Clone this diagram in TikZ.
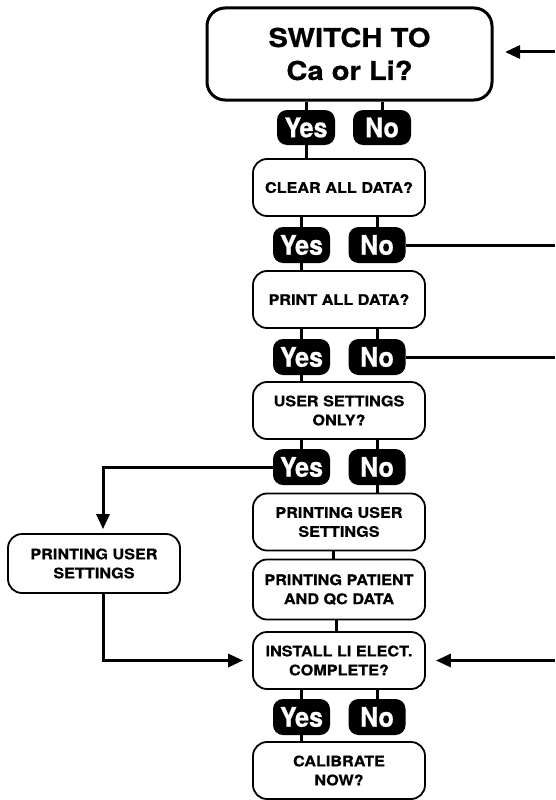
\documentclass[tikz,border=0pt]{standalone}
\usepackage{fontspec}
\setmainfont{TeX Gyre Heros}[FakeStretch=1.11,BoldFeatures={FakeBold=0.6}]
\newfontfamily\topfont{TeX Gyre Heros}[FakeStretch=1.12,BoldFeatures={FakeBold=0.8}]
\newfontfamily\pillfont{TeX Gyre Heros}[FakeStretch=0.93,BoldFeatures={FakeBold=0.8}]
\usetikzlibrary{arrows.meta}
\begin{document}
\begin{tikzpicture}[x=1pt,y=-1pt,
 box/.style={draw, line width=1.8pt, rounded corners=14pt, minimum width=172pt, minimum height=57pt, inner sep=0pt, align=center, font=\fontsize{14.6}{19}\selectfont\bfseries},
 topbox/.style={draw, line width=3pt, rounded corners=18pt, minimum width=285pt, minimum height=92pt, align=center, inner sep=0pt, font=\topfont\fontsize{26}{33}\selectfont\bfseries},
 pill/.style={fill=black, text=white, rounded corners=10pt, minimum width=57pt, minimum height=36pt, inner sep=0pt, font=\pillfont\fontsize{27}{27}\selectfont\bfseries},
 conn/.style={line width=3pt},
 arr/.style={line width=3pt, -{Triangle[length=15pt,width=13pt]}}
]
\useasboundingbox (0,0) rectangle (555,800);
% boxes
\node[topbox] (top) at (349.5,54) {SWITCH TO\\Ca or Li?};
\node[box] (clear) at (339,187.5) {CLEAR ALL DATA?};
\node[box] (print) at (339,299.5) {PRINT ALL DATA?};
\node[box] (user) at (339,410.5) {USER SETTINGS\\ONLY?};
\node[box] (pus) at (339,522) {PRINTING USER\\SETTINGS};
\node[box, minimum height=60pt] (pat) at (339,589.5) {PRINTING PATIENT\\AND QC DATA};
\node[box] (inst) at (339,660.5) {INSTALL LI ELECT.\\COMPLETE?};
\node[box] (cal) at (339,770.5) {CALIBRATE\\NOW?};
\node[box, minimum height=59pt] (left) at (94,563.5) {PRINTING USER\\SETTINGS};
% pills
\node[pill, minimum width=58pt, minimum height=35pt] (y1) at (306,127.5) {Yes};
\node[pill, minimum width=58pt, minimum height=35pt] (n1) at (382,127.5) {No};
\node[pill] (y2) at (301.5,245) {Yes};
\node[pill] (n2) at (377,245) {No};
\node[pill] (y3) at (301.5,357) {Yes};
\node[pill] (n3) at (377,357) {No};
\node[pill] (y4) at (301.5,467) {Yes};
\node[pill] (n4) at (377,467) {No};
\node[pill] (y5) at (301.5,717) {Yes};
\node[pill] (n5) at (377,717) {No};
% free ends
\coordinate (tsrc) at (555,52);
\coordinate (ttip) at (505,52);
\coordinate (e2) at (555,245);
\coordinate (e3) at (555,357);
\coordinate (isrc) at (555,660.5);
\coordinate (lc1) at (103,467);
\coordinate (lc2) at (103,660.5);
% stems
\draw[conn] (y1.north) -- (y1.north |- top.south);
\draw[conn] (n1.north) -- (n1.north |- top.south);
\draw[conn] (y1.south) -- (y1.south |- clear.north);
\draw[conn] (y2.north) -- (y2.north |- clear.south);
\draw[conn] (n2.north) -- (n2.north |- clear.south);
\draw[conn] (y2.south) -- (y2.south |- print.north);
\draw[conn] (y3.north) -- (y3.north |- print.south);
\draw[conn] (n3.north) -- (n3.north |- print.south);
\draw[conn] (y3.south) -- (y3.south |- user.north);
\draw[conn] (y4.north) -- (y4.north |- user.south);
\draw[conn] (n4.north) -- (n4.north |- user.south);
\draw[conn] (n4.south) -- (n4.south |- pus.north);
\draw[conn] ([xshift=-6pt]pus.south) -- ([xshift=-6pt]pat.north);
\draw[conn] ([xshift=-3pt]pat.south) -- ([xshift=-3pt]inst.north);
\draw[conn] (y5.north) -- (y5.north |- inst.south);
\draw[conn] (n5.north) -- (n5.north |- inst.south);
\draw[conn] (y5.south) -- (y5.south |- cal.north);
% side connectors
\draw[arr] (tsrc) -- (ttip);
\draw[conn] (n2.east) -- (e2);
\draw[conn] (n3.east) -- (e3);
\draw[arr, shorten >=4pt] (y4.west) -- (lc1) -- (lc1 |- left.north);
\draw[arr, shorten >=9pt] (lc1 |- left.south) -- (lc2) -- (inst.west);
\draw[arr, shorten >=10pt] (isrc) -- (inst.east);
\end{tikzpicture}
\end{document}
